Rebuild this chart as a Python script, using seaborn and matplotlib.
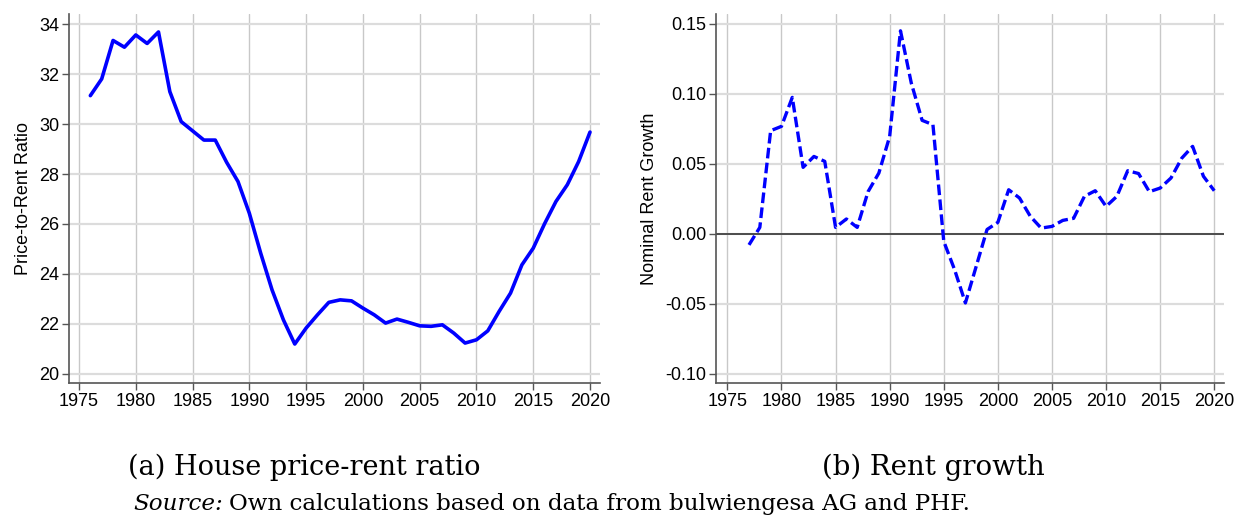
import numpy as np
import pandas as pd
import seaborn as sns
import matplotlib.pyplot as plt

# --- data ---
years_ratio = list(range(1976, 2021))
price_rent_ratio = [
    31.14, 31.81, 33.35, 33.08, 33.57, 33.23, 33.69, 31.30, 30.10, 29.73,
    29.36, 29.36, 28.47, 27.70, 26.43, 24.83, 23.36, 22.16, 21.19, 21.83,
    22.36, 22.86, 22.96, 22.92, 22.63, 22.36, 22.03, 22.19, 22.06, 21.92,
    21.90, 21.96, 21.63, 21.23, 21.36, 21.72, 22.50, 23.23, 24.36, 25.03,
    26.01, 26.90, 27.57, 28.50, 29.68,
]

years_growth = list(range(1977, 2021))
rent_growth = [
    -0.008, 0.0045, 0.0736, 0.0767, 0.0974, 0.0474, 0.0552, 0.0517, 0.0045, 0.0105,
    0.0045, 0.0300, 0.0433, 0.0695, 0.1450, 0.1076, 0.0810, 0.0779, -0.0055, -0.0257,
    -0.0495, -0.0233, 0.0030, 0.0081, 0.0314, 0.0255, 0.0124, 0.0040, 0.0052, 0.0095,
    0.0110, 0.0267, 0.0307, 0.0195, 0.0267, 0.0450, 0.0430, 0.0300, 0.0326, 0.0398,
    0.0540, 0.0624, 0.0410, 0.0307,
]

x_ticks = list(range(1975, 2021, 5))
ratio_ticks = [20, 22, 24, 26, 28, 30, 32, 34]
growth_ticks = [-0.10, -0.05, 0.00, 0.05, 0.10, 0.15]

df_ratio = pd.DataFrame({"year": years_ratio, "ratio": price_rent_ratio})
df_growth = pd.DataFrame({"year": years_growth, "growth": rent_growth})

sns.set_style("white")
plt.rcParams['font.family'] = ['Liberation Sans', 'DejaVu Sans']
plt.rcParams['text.color'] = 'black'
plt.rcParams['axes.labelcolor'] = 'black'
plt.rcParams['xtick.color'] = 'black'
plt.rcParams['ytick.color'] = 'black'

W, H = 1234, 518
fig = plt.figure(figsize=(W / 100, H / 100), dpi=100)
ax1 = fig.add_axes([69 / W, 1 - 383 / H, (600 - 69) / W, (383 - 14) / H])
ax2 = fig.add_axes([716 / W, 1 - 383 / H, (1224 - 716) / W, (383 - 14) / H])

blue = "#0000ff"

sns.lineplot(data=df_ratio, x="year", y="ratio", ax=ax1, color=blue, linewidth=2.6)
sns.lineplot(data=df_growth, x="year", y="growth", ax=ax2, color=blue, linewidth=2.4,
             linestyle=(0, (3.2, 1.3)))
ax2.axhline(0, color="#333333", linewidth=1.2, zorder=1)


def style_axis(ax, xlim, yticks, ylim, yfmt, ylabel):
    ax.set_xlim(*xlim)
    ax.set_ylim(*ylim)
    ax.set_xticks(x_ticks)
    ax.set_yticks(yticks)
    ax.set_yticklabels([yfmt.format(v) for v in yticks])
    ax.set_xlabel("")
    ax.set_ylabel(ylabel, fontsize=13, labelpad=5)
    ax.tick_params(axis="both", labelsize=13, length=5, width=1,
                   direction="out", pad=2, left=True, bottom=True)
    ax.tick_params(axis="both", color="#555555")
    # stata-like grid: light grey horizontal, slightly darker vertical
    ax.grid(axis="y", color="#dcdcdc", linewidth=1.6, zorder=0)
    ax.grid(axis="x", color="#c8c8c8", linewidth=1.0, zorder=0)
    ax.set_axisbelow(True)
    for side in ["top", "right"]:
        ax.spines[side].set_visible(False)
    for side in ["left", "bottom"]:
        ax.spines[side].set_color("#555555")
        ax.spines[side].set_linewidth(1.2)


style_axis(ax1, (1974.12, 2020.88), ratio_ticks, (19.63, 34.41), "{:.0f}",
           "Price-to-Rent Ratio")
style_axis(ax2, (1973.95, 2020.9), growth_ticks, (-0.1067, 0.157), "{:.2f}",
           "Nominal Rent Growth")

serif = ['DejaVu Serif']
renderer = fig.canvas.get_renderer()


def fit_text(x0, x1, y, s, size, **kw):
    # place text left-aligned at x0 and scale font so it ends at x1
    t = fig.text(x0 / W, 1 - y / H, s, family=serif, fontsize=size,
                 ha="left", va="center", **kw)
    bb = t.get_window_extent(renderer=renderer)
    t.set_fontsize(size * (x1 - x0) / bb.width)
    return t


fit_text(128, 481, 467, "(a) House price-rent ratio", 18)
fit_text(822, 1045, 467, "(b) Rent growth", 18)

src1 = fig.text(133 / W, 1 - 504 / H, "Source:", family=serif, style="italic",
                fontsize=15, ha="left", va="center")
src2 = fig.text(0, 1 - 504 / H,
                "Own calculations based on data from bulwiengesa AG and PHF.",
                family=serif, fontsize=15, ha="left", va="center")
w1 = src1.get_window_extent(renderer=renderer).width
w2 = src2.get_window_extent(renderer=renderer).width
scale = (972 - 133) / (w1 + 6 + w2)
src1.set_fontsize(15 * scale)
src2.set_fontsize(15 * scale)
src2.set_x((133 + (w1 + 6) * scale) / W)

fig.savefig("out.png", dpi=100)
